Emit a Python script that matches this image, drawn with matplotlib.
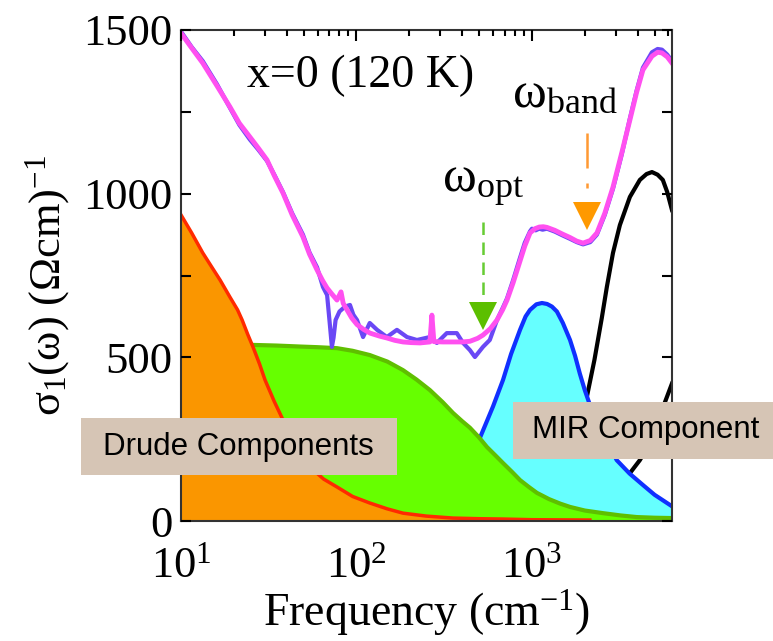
import matplotlib
matplotlib.use("Agg")
import matplotlib.pyplot as plt
from matplotlib.patches import Rectangle
from matplotlib.ticker import MultipleLocator, LogLocator

plt.rcParams['font.family'] = ['Liberation Serif', 'DejaVu Serif']
plt.rcParams['mathtext.fontset'] = 'custom'
plt.rcParams['mathtext.rm'] = 'Liberation Serif'
plt.rcParams['mathtext.it'] = 'Liberation Serif:italic'
plt.rcParams['mathtext.bf'] = 'Liberation Serif:bold'

# -----------------------------
# data (frequency in cm^-1, sigma_1 in (Ohm cm)^-1)
# -----------------------------
fit_freq = [10, 11.5, 13.3, 16, 19, 21.5, 24.7, 27.5, 30.9, 34, 38.1, 43, 49.5,
            54, 59.6, 64, 67.9, 72, 77.4, 81.6, 84, 88.3, 94, 100.7, 110, 119.4,
            135, 149.3, 165, 184, 205, 230, 262, 269, 276, 310, 355, 400, 443,
            490, 526, 580, 632, 680, 721, 780, 850, 910, 975, 1040, 1100, 1160,
            1217, 1350, 1500, 1648, 1800, 1955, 2150, 2346, 2600, 2896, 3250,
            3615, 3950, 4290, 4830, 5200, 5505, 5900, 6280]
fit_sigma = [1490, 1445, 1399, 1330, 1265, 1215, 1173, 1140, 1103, 1055, 1002,
             935, 868, 815, 767, 735, 712, 695, 675, 700, 665, 645, 620, 600,
             585, 574, 565, 559, 552, 547, 545, 544, 547, 629, 548, 547, 547,
             547, 549, 558, 568, 588, 614, 645, 675, 727, 790, 840, 880, 893,
             898, 899, 897, 888, 876, 866, 855, 849, 857, 880, 940, 1020, 1125,
             1225, 1310, 1378, 1420, 1432, 1430, 1418, 1399]

data_freq = [10, 11.5, 13.3, 16, 19, 21.5, 24.7, 27.5, 30.9, 34, 38.1, 43, 49.5,
             54, 59.6, 64.4, 68, 70.5, 72.4, 74, 76, 80, 86, 91.8, 96, 100.7,
             109, 119, 131, 149, 170, 194, 221, 262, 287, 327, 373, 405, 443,
             473, 526, 575, 632, 680, 721, 780, 850, 910, 975, 1000, 1050, 1100,
             1150, 1217, 1350, 1500, 1648, 1800, 1955, 2150, 2346, 2600, 2896,
             3250, 3615, 3950, 4290, 4830, 5200, 5505, 5900, 6280]
data_sigma = [1495, 1448, 1405, 1335, 1262, 1210, 1165, 1135, 1100, 1058, 1005,
              940, 875, 820, 775, 715, 690, 600, 532, 560, 614, 640, 655, 660,
              630, 614, 562, 605, 584, 562, 584, 562, 553, 562, 544, 574, 574,
              544, 522, 501, 532, 553, 614, 650, 680, 735, 800, 850, 885, 893,
              888, 893, 890, 893, 884, 872, 862, 852, 845, 852, 875, 935, 1015,
              1120, 1230, 1315, 1385, 1432, 1442, 1440, 1425, 1405]

drude1_freq = [10, 11.5, 13.3, 15, 16.7, 19, 21, 22.3, 24, 25.7, 28, 30.1, 34,
               38.1, 45, 54.3, 65, 77.4, 95, 119, 150, 184, 250, 355, 500, 684,
               1000, 2138]
drude1_sigma = [935, 880, 819, 775, 736, 684, 645, 614, 570, 532, 480, 431,
                365, 309, 230, 165, 128, 104, 75, 55, 37, 24, 15, 9, 7, 6,
                4, 3]

drude2_freq = [25.4, 35, 47.6, 60, 77.4, 95, 119, 150, 184, 220, 262, 310, 355,
               400, 443, 500, 554, 620, 684, 770, 855, 960, 1067, 1250, 1450,
               1648, 2000, 2540, 3200, 3960, 5000, 6280]
drude2_sigma = [538, 536, 533, 531, 528, 520, 507, 487, 461, 432, 400, 363, 330,
                305, 285, 255, 226, 200, 177, 150, 125, 104, 86, 67, 53,
                43, 32, 24, 17, 12, 10, 9]

mir_freq = [250, 300, 350, 400, 450, 519, 600, 684, 760, 855, 920, 975, 1060,
            1140, 1220, 1300, 1387, 1500, 1648, 1760, 1875, 2000, 2138, 2540,
            3040, 3600, 4290, 5000, 6280]
mir_sigma = [30, 55, 90, 135, 190, 269, 350, 431, 510, 584, 625, 645, 662,
             666, 663, 655, 640, 605, 553, 505, 450, 400, 355, 270,
             186, 145, 110, 80, 45]

band1_freq = [1300, 1542, 1758, 2055, 2270, 2500, 2672, 2896, 3170, 3615, 4120,
              4500, 4830, 5200, 5570, 5900, 6280]
band1_sigma = [20, 125, 247, 379, 492, 620, 715, 819, 904, 990, 1042,
               1060, 1066, 1058, 1042, 1005, 950]

band2_freq = [2300, 2900, 3475, 4120, 4600, 5090, 5700, 6280]
band2_sigma = [20, 70, 134, 186, 230, 290, 360, 420]

w_opt = 526
w_band = 2055

fig = plt.figure(figsize=(7.73, 6.41), dpi=100)
ax = fig.add_axes([0.2342, 0.1872, 0.6351, 0.766])

# interband oscillators (black, unfilled)
ax.plot(band1_freq, band1_sigma, color='black', lw=3, zorder=1)
ax.plot(band2_freq, band2_sigma, color='black', lw=3, zorder=1)

# MIR component
ax.fill_between(mir_freq, mir_sigma, 0, color='#66ffff', lw=0, zorder=2)
ax.plot(mir_freq, mir_sigma, color='#1030ff', lw=3, zorder=2.1)

# broad Drude
ax.fill_between(drude2_freq, drude2_sigma, 0, color='#66ff00', lw=0, zorder=3)
ax.plot(drude2_freq, drude2_sigma, color='#5fbf00', lw=3, zorder=3.1)

# narrow Drude
ax.fill_between(drude1_freq, drude1_sigma, 0, color='#fa9600', lw=0, zorder=4)
ax.plot(drude1_freq, drude1_sigma, color='#ff2a00', lw=2.5, zorder=4.1)

# measured data and total fit
ax.plot(data_freq, data_sigma, color='#6a48f5', lw=3, zorder=5)
ax.plot(fit_freq, fit_sigma, color='#ff50f0', lw=3.5, zorder=6)

# arrows for omega_opt and omega_band
ax.plot([w_opt, w_opt], [913, 672], color='#66cc33', lw=1.8,
        dashes=(5, 3), zorder=7)
ax.plot(w_opt, 626, marker='v', markersize=20, color='#5cbf00',
        markeredgewidth=0, zorder=7)
ax.plot([w_band, w_band], [1185, 975], color='#ff9933', lw=1.8,
        dashes=(14, 6, 2, 6), zorder=7)
ax.plot(w_band, 932, marker='v', markersize=20, color='#ff9900',
        markeredgewidth=0, zorder=7)

ax.text(23.8, 1326, 'x=0 (120 K)', fontsize=33)
ax.text(307, 1005, r'$\mathrm{\omega_{opt}}$', fontsize=37, zorder=8)
ax.text(769, 1265, r'$\mathrm{\omega_{band}}$', fontsize=37, zorder=8)

ax.set_xscale('log')
ax.set_xlim(10, 6280)
ax.set_ylim(0, 1500)
ax.yaxis.set_major_locator(MultipleLocator(500))
ax.yaxis.set_minor_locator(MultipleLocator(250))
ax.xaxis.set_major_locator(LogLocator(base=10, numticks=10))
ax.xaxis.set_minor_locator(LogLocator(base=10, subs=range(2, 10), numticks=20))

ax.tick_params(which='both', direction='in', top=True, right=True, bottom=False,
               labelsize=32, width=1.5)
ax.tick_params(axis='y', which='both', length=7, pad=6)
ax.tick_params(axis='x', which='major', length=8, pad=18)
ax.tick_params(axis='x', which='minor', length=4)
ax.xaxis.set_zorder(10)
ax.yaxis.set_zorder(10)
for s in ax.spines.values():
    s.set_linewidth(1.5)
    s.set_color('#333333')
    s.set_zorder(10)

ax.set_xlabel(r'Frequency (cm$^{\mathrm{-1}}$)', fontsize=33, labelpad=1)
ax.set_ylabel(r'$\mathrm{\sigma_1(\omega)\ (\Omega cm)^{-1}}$', fontsize=32)
ax.yaxis.set_label_coords(-0.222, 0.48)

# label boxes
fig.add_artist(Rectangle((0.1048, 0.2590), 0.4088, 0.0889,
                         transform=fig.transFigure, color='#d6c5b5', lw=0,
                         zorder=20))
fig.text(0.3085, 0.3034, 'Drude Components', fontsize=22.5,
         family='Liberation Sans', ha='center', va='center', zorder=21)
fig.add_artist(Rectangle((0.6636, 0.2839), 0.3364, 0.0889,
                         transform=fig.transFigure, color='#d6c5b5', lw=0,
                         zorder=20))
fig.text(0.6882, 0.3284, 'MIR Component', fontsize=22.5,
         family='Liberation Sans', ha='left', va='center', zorder=21)

fig.savefig('out.png', dpi=100)
